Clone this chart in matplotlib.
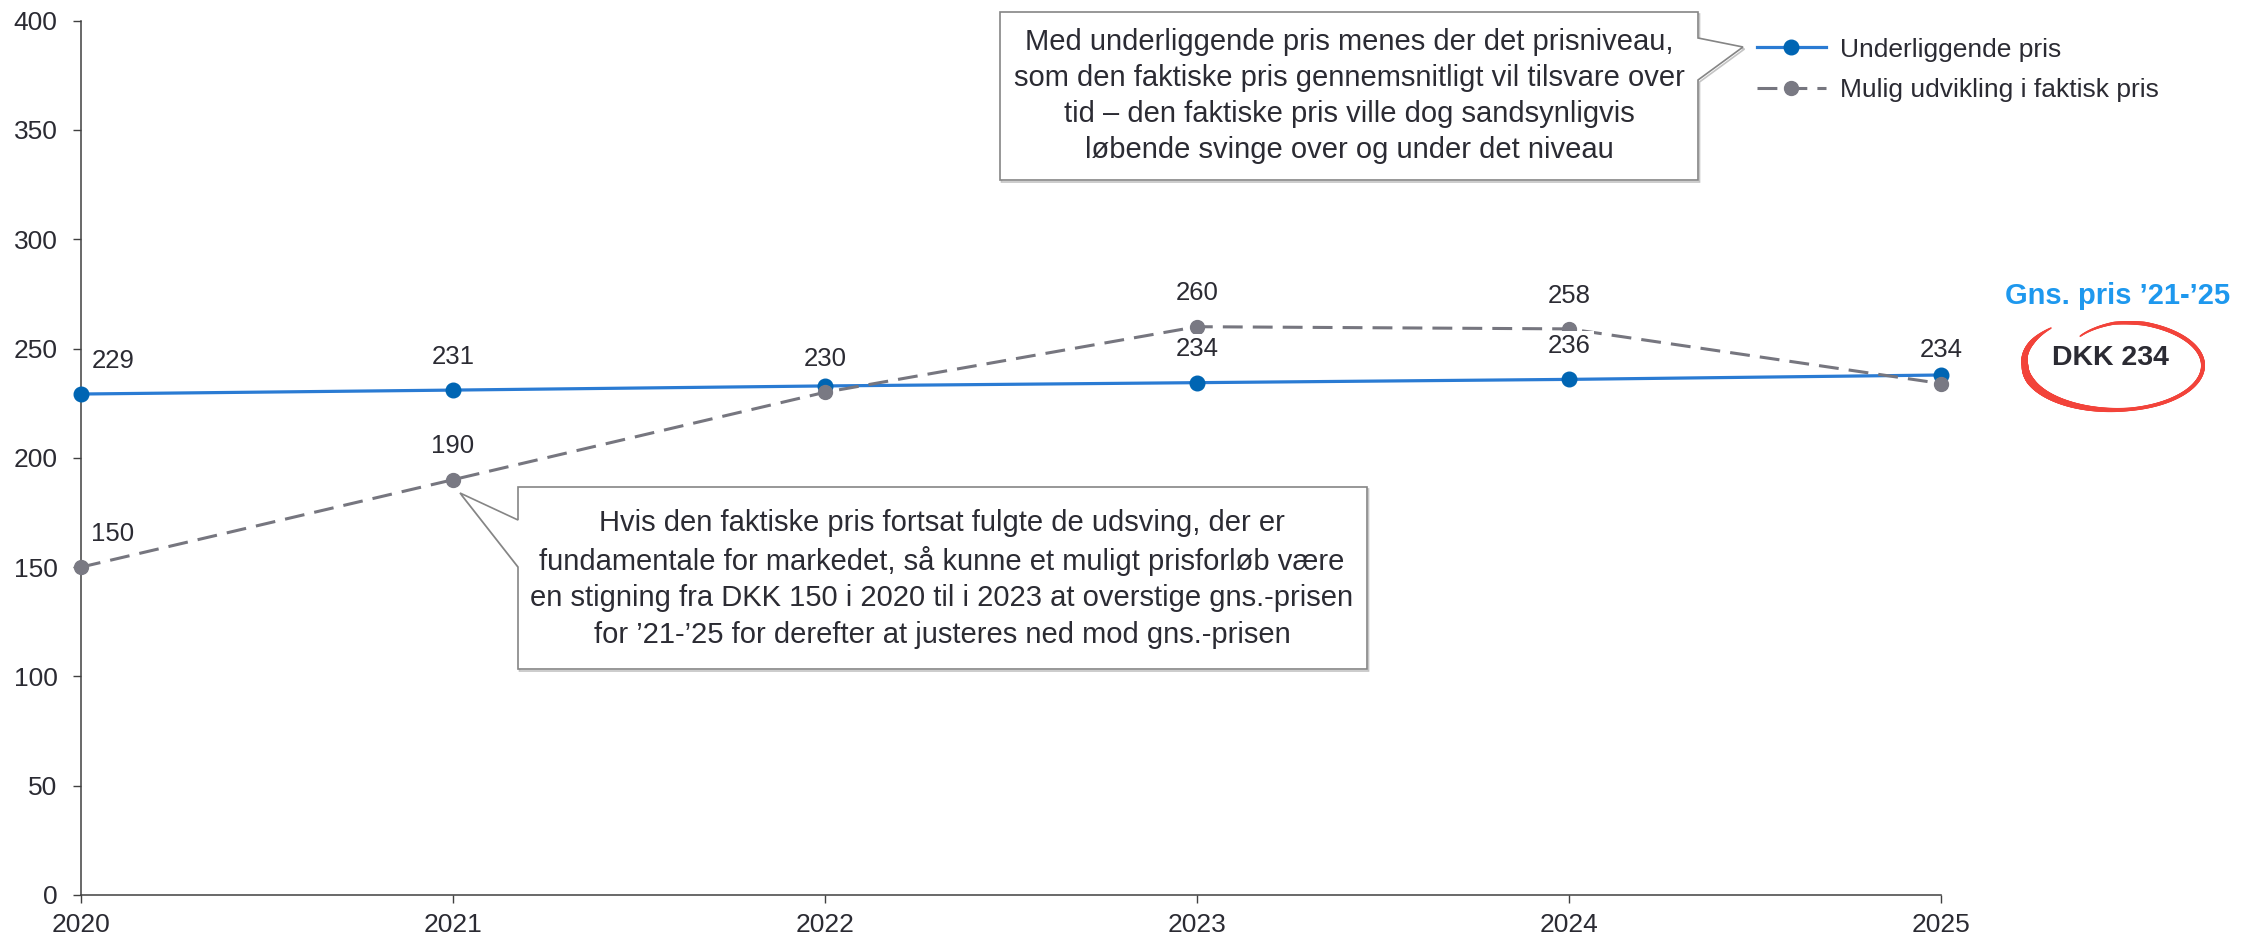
import matplotlib
matplotlib.use("Agg")
import matplotlib.pyplot as plt
import numpy as np
from matplotlib.patches import Polygon
from matplotlib.collections import LineCollection

plt.rcParams['font.family'] = ['Liberation Sans', 'DejaVu Sans']

# ---------------- data ----------------
years = [2020, 2021, 2022, 2023, 2024, 2025]
underlying = [229.2, 231.0, 232.9, 234.4, 235.9, 237.9]
possible = [150, 190, 230, 260, 259, 234]
underlying_labels = ["229", "231", None, "234", "236", None]
possible_labels = ["150", "190", "230", "260", "258", "234"]
series_names = ["Underliggende pris", "Mulig udvikling i faktisk pris"]
yticks = [0, 50, 100, 150, 200, 250, 300, 350, 400]
xtick_labels = ["2020", "2021", "2022", "2023", "2024", "2025"]

callout_top = ("Med underliggende pris menes der det prisniveau,\n"
               "som den faktiske pris gennemsnitligt vil tilsvare over\n"
               "tid – den faktiske pris ville dog sandsynligvis\n"
               "løbende svinge over og under det niveau")
callout_bottom = ("Hvis den faktiske pris fortsat fulgte de udsving, der er\n"
                  "fundamentale for markedet, så kunne et muligt prisforløb være\n"
                  "en stigning fra DKK 150 i 2020 til i 2023 at overstige gns.-prisen\n"
                  "for ’21-’25 for derefter at justeres ned mod gns.-prisen")
avg_title = "Gns. pris ’21-’25"
avg_value = "DKK 234"

# ---------------- style ----------------
TXT = '#2B2B33'
BLUE_LINE = '#2A7BD3'
BLUE_MK = '#0065B3'
GRAY_LINE = '#76767F'
GRAY_MK = '#797983'
AX_COL = '#404040'
RED = '#F2433A'
LIGHT_BLUE = '#1E98EE'

W, H = 2259, 941
fig = plt.figure(figsize=(W / 100, H / 100), dpi=100)

x0, x1 = 81, 1941
y_top, y_bot = 20.7, 895
ax = fig.add_axes([x0 / W, (H - y_bot) / H, (x1 - x0) / W, (y_bot - y_top) / H])
ax.set_xlim(years[0], years[-1])
ax.set_ylim(0, 400)

l1, = ax.plot(years, underlying, color=BLUE_LINE, lw=2.3, marker='o', ms=10.5,
              mfc=BLUE_MK, mec=BLUE_MK, zorder=3, clip_on=False,
              label=series_names[0])
l2, = ax.plot(years, possible, color=GRAY_LINE, lw=2.2, dashes=(6.5, 3.3),
              marker='o', ms=10, mfc=GRAY_MK, mec=GRAY_MK, zorder=3.1,
              clip_on=False, label=series_names[1])

def add_labels(vals, labs):
    for i, (x, v, lab) in enumerate(zip(years, vals, labs)):
        if lab is None:
            continue
        dx = 23 if i == 0 else 0
        ax.annotate(lab, (x, v), xytext=(dx, 24), textcoords='offset points',
                    ha='center', va='center', fontsize=18.5, color=TXT,
                    bbox=dict(boxstyle='square,pad=0.12', fc='white', ec='none'),
                    zorder=5, annotation_clip=False)

add_labels(underlying, underlying_labels)
add_labels(possible, possible_labels)

ax.set_yticks(yticks)
ax.set_xticks(years)
ax.set_xticklabels(xtick_labels)
ax.tick_params(axis='both', direction='out', length=5.8, width=1.0,
               color=AX_COL, labelsize=19, labelcolor=TXT)
ax.tick_params(axis='y', pad=11)
ax.tick_params(axis='x', pad=7)
for s in ['top', 'right']:
    ax.spines[s].set_visible(False)
for s in ['left', 'bottom']:
    ax.spines[s].set_color(AX_COL)
    ax.spines[s].set_linewidth(1.1)

ax.legend(handles=[l1, l2], loc='upper left',
          bbox_to_anchor=(1757 / W, 1 - 37.5 / H), bbox_transform=fig.transFigure,
          frameon=False, fontsize=19, handlelength=2.6, handletextpad=0.55,
          labelspacing=0.62, borderpad=0, borderaxespad=0, labelcolor=TXT)

# ---------------- overlay (pixel coordinates) ----------------
ov = fig.add_axes([0, 0, 1, 1], zorder=10)
ov.set_xlim(0, W)
ov.set_ylim(H, 0)
ov.axis('off')
ov.patch.set_alpha(0)

def callout(pts):
    sh = [(px + 1.5, py + 2) for px, py in pts]
    ov.add_patch(Polygon(sh, closed=True, fc='none', ec='#C4C4C4', lw=1.2))
    ov.add_patch(Polygon(pts, closed=True, fc='white', ec='#858585', lw=1.2))

callout([(1000, 12), (1698, 12), (1698, 38), (1743, 47), (1698, 80),
         (1698, 180), (1000, 180)])
callout([(518, 487), (1367, 487), (1367, 669), (518, 669), (518, 567),
         (460, 493), (518, 520)])

ov.text(1349, 96, callout_top, ha='center', va='center', multialignment='center',
        fontsize=21, linespacing=1.37, color=TXT)
ov.text(942, 579, callout_bottom, ha='center', va='center', multialignment='center',
        fontsize=21, linespacing=1.37, color=TXT)

ov.text(2118, 304.5, avg_title, ha='center', va='baseline', fontsize=21,
        fontweight='bold', color=LIGHT_BLUE)
ov.text(2110, 365, avg_value, ha='center', va='baseline', fontsize=20.5,
        fontweight='bold', color=TXT)

# hand-drawn red ring
cx, cy, a, b = 2114, 365.5, 89, 44.5
tdeg = np.linspace(130, 480, 500)
t = np.radians(tdeg)
r = np.interp(tdeg, [130, 180, 430, 450, 480], [1.10, 1.0, 1.0, 0.95, 0.76])
wpx = np.interp(tdeg, [130, 150, 200, 240, 280, 360, 430, 480],
                [1.5, 5, 8, 6, 3.5, 4, 4, 1.5])
xs = cx + r * a * np.cos(t)
ys = cy - r * b * np.sin(t)
pts = np.column_stack([xs, ys])
segs = np.stack([pts[:-1], pts[1:]], axis=1)
ov.add_collection(LineCollection(segs, linewidths=wpx[:-1] * 72 / 100,
                                 colors=RED, capstyle='round'))

fig.savefig('out.png', dpi=100)
